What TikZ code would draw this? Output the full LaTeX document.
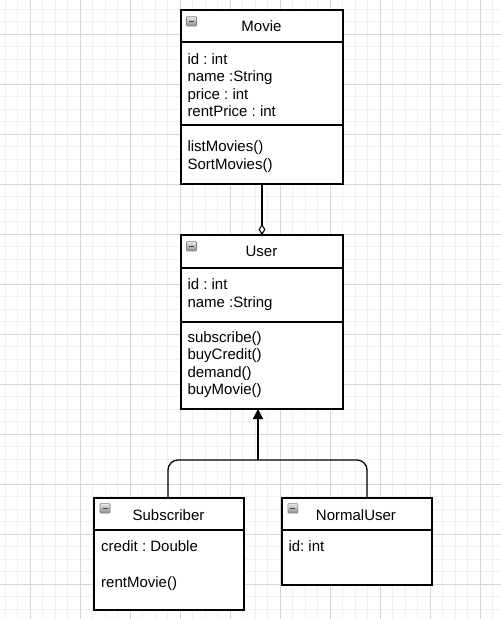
\documentclass[tikz,border=0pt]{standalone}
\usepackage{fontspec}
\setmainfont{Liberation Sans}
\usetikzlibrary{arrows.meta}
\frenchspacing
\begin{document}
\begin{tikzpicture}[x=1pt,y=-1pt,
  classbox/.style={draw=black, line width=1.3pt, anchor=north west, inner sep=0pt, outer sep=0pt},
  divider/.style={draw=black, line width=1.3pt},
  member/.style={anchor=base west, inner sep=0pt, font=\fontsize{15}{18}\selectfont},
  classname/.style={anchor=base, inner sep=0pt, font=\fontsize{15}{18}\selectfont},
  conn/.style={draw=black, line width=1.3pt},
  minorgrid/.style={draw=black!6, line width=0.9pt},
  majorgrid/.style={draw=black!16, line width=0.9pt},
  collapse/.pic={
    \draw[draw=black!50, line width=0.6pt, top color=black!10, bottom color=black!45, rounded corners=0.8pt] (0,0) rectangle (10,9.5);
    \draw[draw=black!75, line width=1.4pt] (2.5,4.7) -- (7.5,4.7);
  }]

% canvas and background grid
\useasboundingbox (0,0) rectangle (501,619);
\fill[white] (0,0) rectangle (501,619);
\foreach \gx in {5.3,17.8,...,501} \draw[minorgrid] (\gx,0) -- (\gx,619);
\foreach \gy in {9.3,21.8,...,619} \draw[minorgrid] (0,\gy) -- (501,\gy);
\foreach \gx in {30.3,80.3,...,501} \draw[majorgrid] (\gx,0) -- (\gx,619);
\foreach \gy in {34.3,84.3,...,619} \draw[majorgrid] (0,\gy) -- (501,\gy);

% ---- Movie ----
\node[classbox, fill=white, minimum width=162pt, minimum height=174pt] (movie) at (181,10) {};
\draw[divider] (181,42) -- (343,42);
\draw[divider] (181,125) -- (343,125);
\pic at (186.5,16.6) {collapse};
\node[classname] (movieName) at (261.5,31.8) {Movie};
\node[member] (mv1) at (187.3,64.3) {id : int};
\node[member] (mv2) at (187.3,81.8) {name :String};
\node[member] (mv3) at (187.3,99.3) {price : int};
\node[member] (mv4) at (187.3,116.8) {rentPrice : int};
\node[member] (mv5) at (187.3,151.7) {listMovies()};
\node[member] (mv6) at (187.3,169.2) {SortMovies()};

% ---- User ----
\node[classbox, fill=white, minimum width=162pt, minimum height=174pt] (user) at (181,235) {};
\draw[divider] (181,268) -- (343,268);
\draw[divider] (181,322) -- (343,322);
\pic at (186.5,241.6) {collapse};
\node[classname] (userName) at (261.5,256.8) {User};
\node[member] (us1) at (187.3,289.3) {id : int};
\node[member] (us2) at (187.3,307.0) {name :String};
\node[member] (us3) at (187.3,342.3) {subscribe()};
\node[member] (us4) at (187.3,359.8) {buyCredit()};
\node[member] (us5) at (187.3,377.3) {demand()};
\node[member] (us6) at (187.3,394.8) {buyMovie()};

% ---- Subscriber ----
\node[classbox, fill=white, minimum width=150pt, minimum height=112pt] (sub) at (94,498) {};
\draw[divider] (94,530) -- (244,530);
\pic at (100,503.6) {collapse};
\node[classname] (subName) at (168.5,520) {Subscriber};
\node[member] (sb1) at (101,551.7) {credit : Double};
\node[member] (sb2) at (101,587.7) {rentMovie()};

% ---- NormalUser ----
\node[classbox, fill=white, minimum width=150pt, minimum height=87pt] (norm) at (282,498) {};
\draw[divider] (282,530) -- (432,530);
\pic at (287.8,503.6) {collapse};
\node[classname] (normName) at (356,520) {NormalUser};
\node[member] (nu1) at (288.3,551.7) {id: int};

% ---- relations ----
% aggregation: Movie -- User
\draw[conn, -{Diamond[open, length=11pt, width=7pt, line width=1.1pt]}] (movie.south) -- (user.north);

% generalization: Subscriber, NormalUser -> User
\coordinate (junction) at (258,460);
\draw[conn, rounded corners=10pt] ([xshift=-1pt]sub.north) |- (junction);
\draw[conn, rounded corners=10pt] ([xshift=10pt]norm.north) |- (junction);
\draw[conn, -{Triangle[length=10pt, width=10pt]}] (junction) -- (junction |- user.south);

\end{tikzpicture}
\end{document}
